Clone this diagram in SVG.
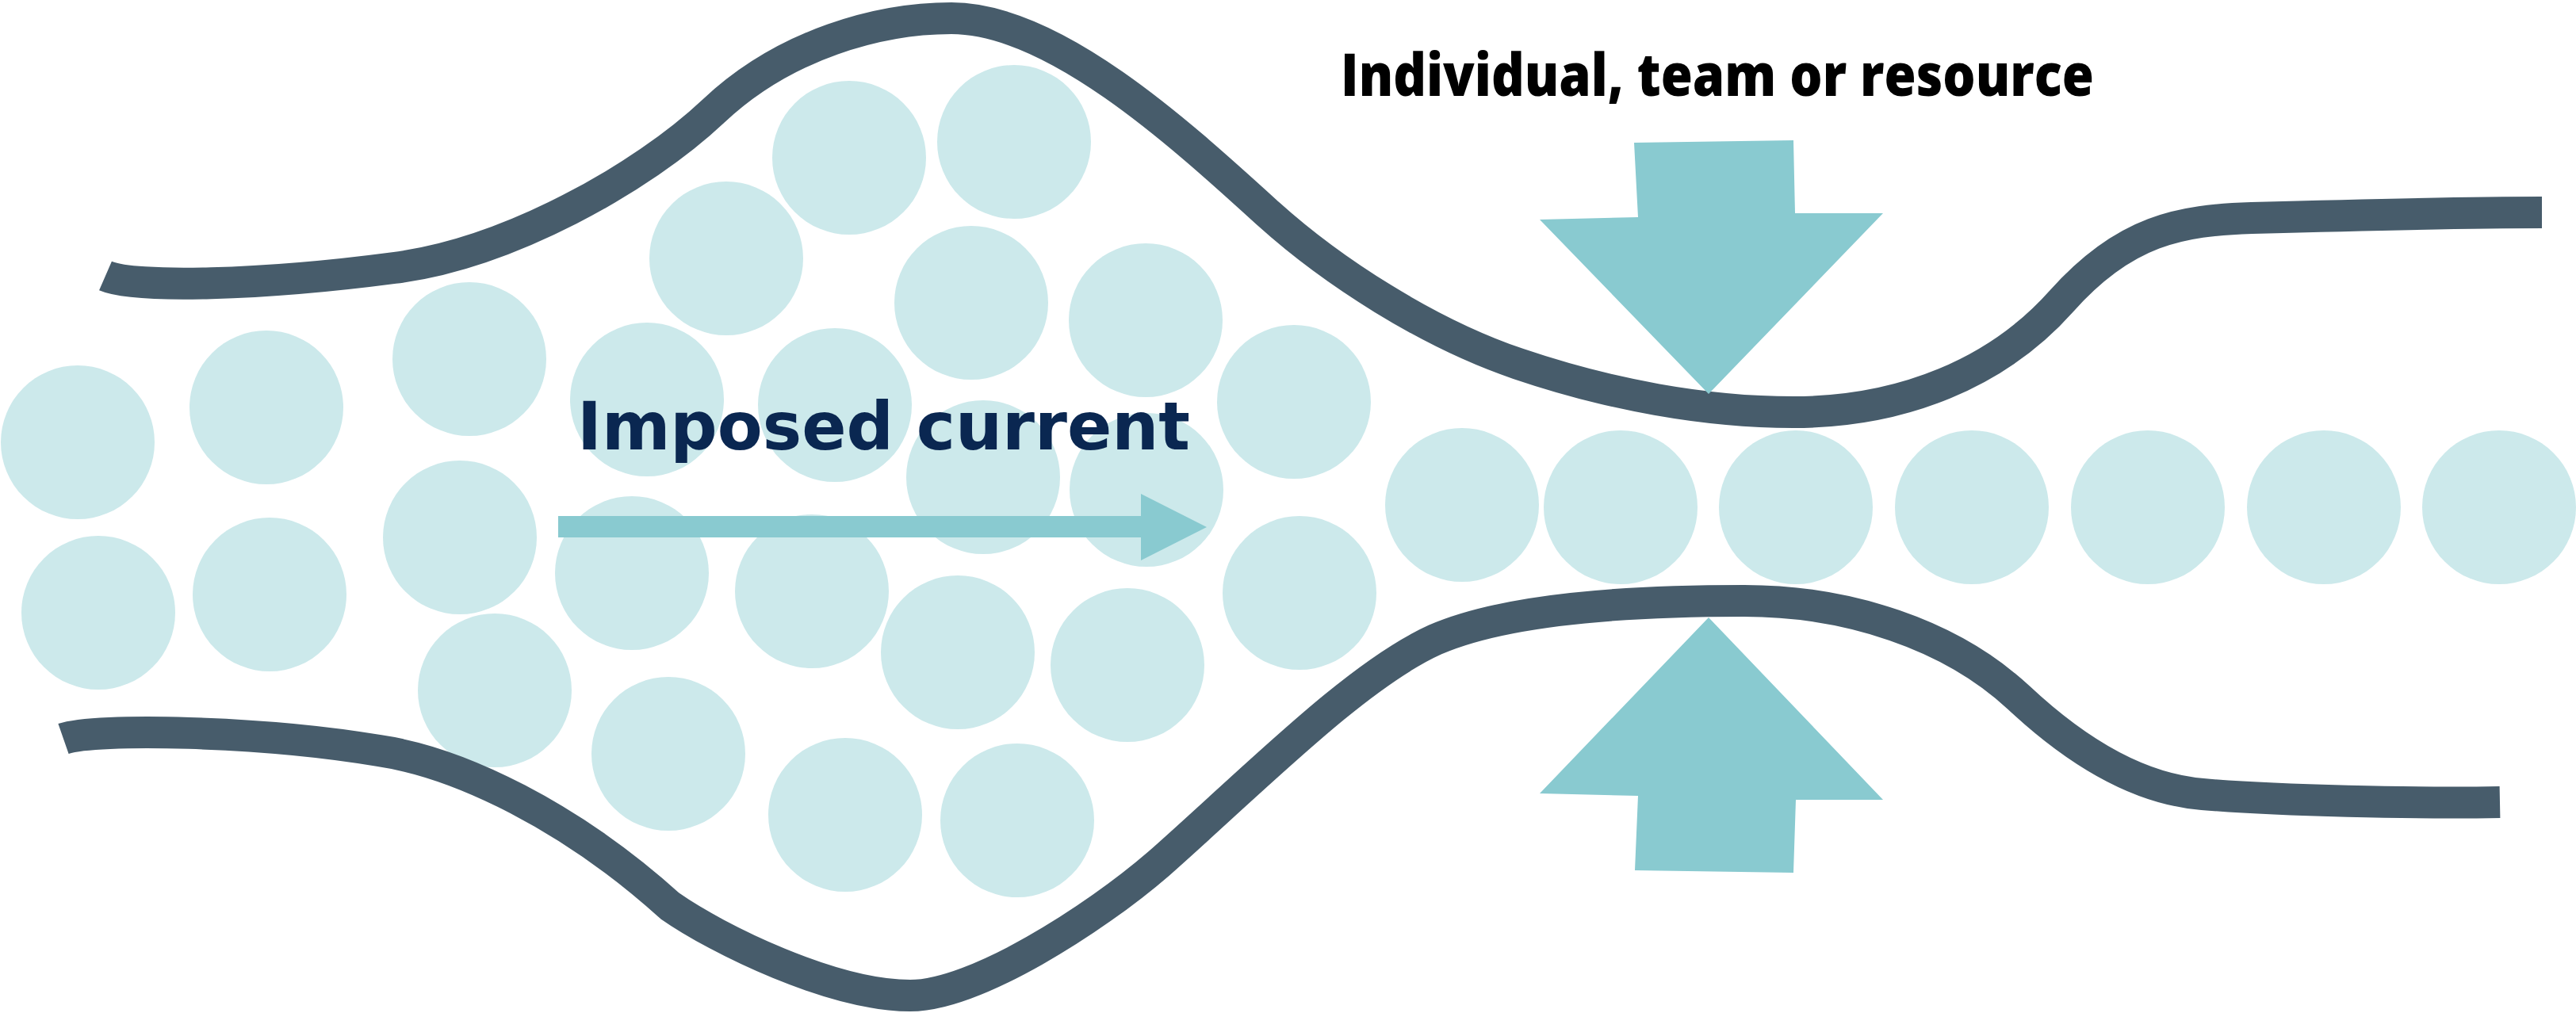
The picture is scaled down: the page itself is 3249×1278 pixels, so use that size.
<svg xmlns="http://www.w3.org/2000/svg" width="3249" height="1278" viewBox="0 0 3249 1278">
  <style>
    .p { fill: #CCE9EB; }
    .wall { fill: none; stroke: #475C6B; stroke-width: 40; stroke-linecap: butt; stroke-linejoin: round; }
    .arrow { fill: #89CAD0; }
    .lbl1 { font-family: "DejaVu Sans", Verdana, sans-serif; font-weight: 700; font-size: 84px; fill: #0A2751; }
    .lbl2 { font-family: "Open Sans", "Liberation Sans", sans-serif; font-weight: 800; font-size: 74px; fill: #000000; }
  </style>
  <rect width="3249" height="1278" fill="#FFFFFF"/>
  <g id="particles">
    <circle class="p" cx="98" cy="558" r="97"/>
    <circle class="p" cx="124" cy="773" r="97"/>
    <circle class="p" cx="336" cy="514" r="97"/>
    <circle class="p" cx="340" cy="750" r="97"/>
    <circle class="p" cx="592" cy="453" r="97"/>
    <circle class="p" cx="580" cy="678" r="97"/>
    <circle class="p" cx="624" cy="871" r="97"/>
    <circle class="p" cx="816" cy="504" r="97"/>
    <circle class="p" cx="797" cy="723" r="97"/>
    <circle class="p" cx="843" cy="951" r="97"/>
    <circle class="p" cx="916" cy="326" r="97"/>
    <circle class="p" cx="1071" cy="199" r="97"/>
    <circle class="p" cx="1279" cy="179" r="97"/>
    <circle class="p" cx="1053" cy="511" r="97"/>
    <circle class="p" cx="1024" cy="746" r="97"/>
    <circle class="p" cx="1066" cy="1028" r="97"/>
    <circle class="p" cx="1225" cy="382" r="97"/>
    <circle class="p" cx="1240" cy="602" r="97"/>
    <circle class="p" cx="1208" cy="823" r="97"/>
    <circle class="p" cx="1283" cy="1035" r="97"/>
    <circle class="p" cx="1445" cy="404" r="97"/>
    <circle class="p" cx="1446" cy="618" r="97"/>
    <circle class="p" cx="1422" cy="839" r="97"/>
    <circle class="p" cx="1632" cy="507" r="97"/>
    <circle class="p" cx="1639" cy="748" r="97"/>
    <circle class="p" cx="1844" cy="637" r="97"/>
    <circle class="p" cx="2044" cy="640" r="97"/>
    <circle class="p" cx="2265" cy="640" r="97"/>
    <circle class="p" cx="2487" cy="640" r="97"/>
    <circle class="p" cx="2709" cy="640" r="97"/>
    <circle class="p" cx="2931" cy="640" r="97"/>
    <circle class="p" cx="3152" cy="640" r="97"/>
  </g>
  <g id="walls">
    <path id="wall-top" class="wall" d="M 133 348 C 170 364, 330 360, 497 338 C 640 320, 810 225, 900 140 C 990 55, 1110 23, 1200 23 C 1330 23, 1490 170, 1600 270 C 1680 342, 1800 420, 1915 459 C 2030 498, 2150 520, 2262 520 C 2400 520, 2520 470, 2600 380 C 2680 290, 2750 278, 2840 275 C 2950 272, 3100 268, 3206 268"/>
    <path id="wall-bottom" class="wall" d="M 80 932 C 120 918, 330 922, 478 947 C 580 962, 720 1030, 845 1143 C 905 1185, 1050 1256, 1148 1256 C 1230 1256, 1380 1160, 1461 1090 C 1580 985, 1710 852, 1810 807 C 1900 768, 2050 758, 2200 758 C 2330 758, 2460 800, 2546 880 C 2610 940, 2690 995, 2778 1002 C 2870 1010, 3050 1014, 3153 1012"/>
  </g>
  <g id="current">
    <polygon class="arrow" points="704,651 1439,651 1439,623 1522,665 1439,707 1439,678 704,678"/>
    <text class="lbl1" x="728" y="567" textLength="773" lengthAdjust="spacingAndGlyphs">Imposed current</text>
  </g>
  <g id="constraint">
    <polygon id="arrow-down" class="arrow" points="2061,180 2262,177 2264,269 2375,269 2155,497 1942,277 2066,274"/>
    <polygon id="arrow-up" class="arrow" points="2155,779 2375,1009 2265,1009 2262,1101 2062,1098 2066,1004 1942,1001"/>
    <text class="lbl2" x="1691" y="121" textLength="950" lengthAdjust="spacingAndGlyphs">Individual, team or resource</text>
  </g>
</svg>
